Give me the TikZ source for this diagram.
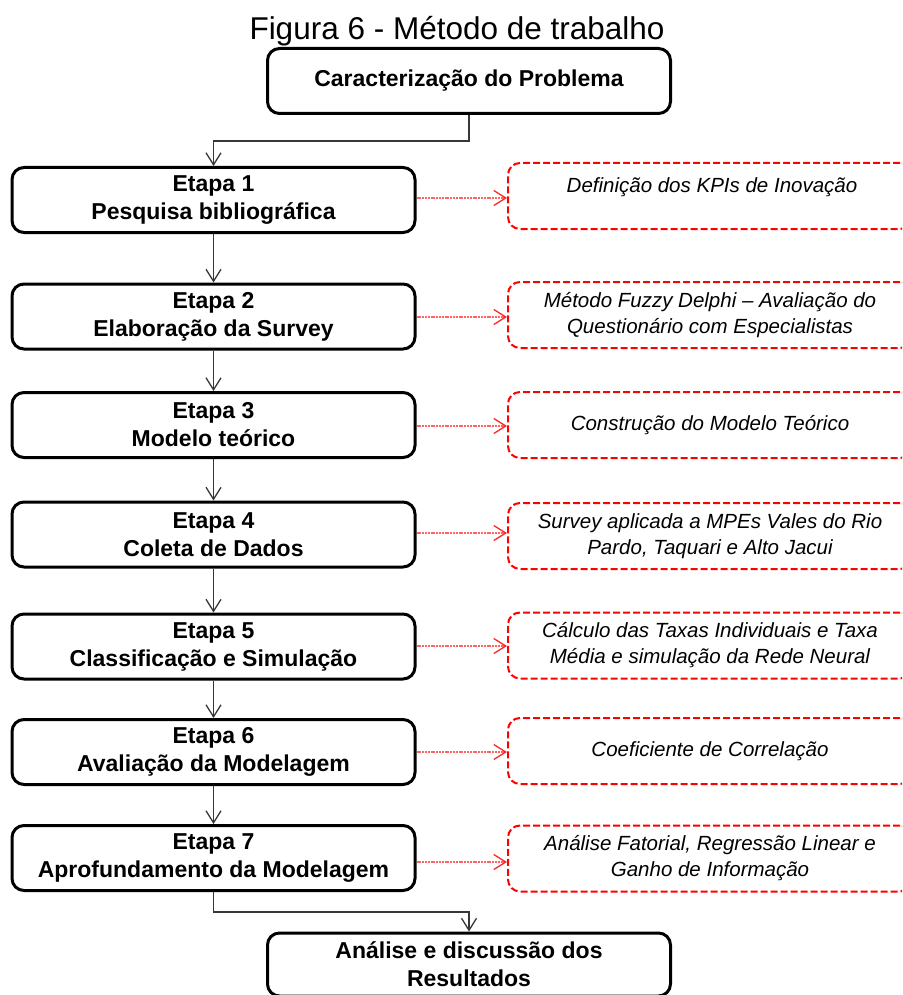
\documentclass[tikz,border=0pt]{standalone}
\usepackage{fontspec}
\setmainfont{Liberation Sans}
\usetikzlibrary{arrows.meta}
\definecolor{dashred}{RGB}{255,0,0}
\definecolor{linkred}{RGB}{255,100,100}
\definecolor{conngray}{RGB}{55,55,55}

\begin{document}
\begin{tikzpicture}[x=1pt,y=-1pt,
  stepbox/.style={draw=black, fill=white, line width=3pt, rounded corners=12pt,
    minimum width=403pt, minimum height=65pt, inner sep=0pt, align=center,
    font=\fontsize{23}{28}\selectfont\bfseries},
  notebox/.style={draw=dashred, line width=2pt, dash pattern=on 7pt off 3pt,
    rounded corners=12pt, minimum width=404pt, minimum height=66pt, inner sep=0pt},
  notetext/.style={align=center, inner sep=0pt,
    font=\fontsize{20.5}{26}\selectfont\itshape},
  conn/.style={draw=conngray, line width=1.3pt,
    -{Straight Barb[length=12pt,width=15pt,line width=1.3pt]}},
  link/.style={draw=linkred, line width=1.6pt, dash pattern=on 2pt off 0.8pt,
    -{Straight Barb[length=12pt,width=15pt,line width=1.3pt,color=red!85]}},
]
\useasboundingbox (0,0) rectangle (902,995);
\clip (0,0) rectangle (902,995);

% title
\node[anchor=base, font=\fontsize{31.5}{36}\selectfont] (title) at (457,40)
  {Figura 6 - Método de trabalho};

% main flow
\node[stepbox] (top) at (469,81) {Caracterização do Problema};
\node[stepbox] (e1) at (213.5,200) {Etapa 1\\Pesquisa bibliográfica};
\node[stepbox] (e2) at (213.5,316.5) {Etapa 2\\Elaboração da Survey};
\node[stepbox] (e3) at (213.5,425) {Etapa 3\\Modelo teórico};
\node[stepbox] (e4) at (213.5,534.5) {Etapa 4\\Coleta de Dados};
\node[stepbox] (e5) at (213.5,646.5) {Etapa 5\\Classificação e Simulação};
\node[stepbox] (e6) at (213.5,752) {Etapa 6\\Avaliação da Modelagem};
\node[stepbox] (e7) at (213.5,858) {Etapa 7\\Aprofundamento da Modelagem};
\node[stepbox, minimum height=63pt] (fim) at (469,964.5)
  {Análise e discussão dos\\Resultados};

% side notes
\node[notebox] (r1) at (710,196) {};
\node[notebox] (r2) at (710,315) {};
\node[notebox] (r3) at (710,425) {};
\node[notebox] (r4) at (710,536) {};
\node[notebox] (r5) at (710,645.5) {};
\node[notebox] (r6) at (710,751) {};
\node[notebox] (r7) at (710,858.5) {};

\node[notetext] (t1) at (712,187) {Definição dos KPIs de Inovação};
\node[notetext] (t2) at (r2) {Método Fuzzy Delphi -- Avaliação do\\Questionário com Especialistas};
\node[notetext] (t3) at (r3) {Construção do Modelo Teórico};
\node[notetext] (t4) at (r4) {Survey aplicada a MPEs Vales do Rio\\Pardo, Taquari e Alto Jacui};
\node[notetext] (t5) at (r5) {Cálculo das Taxas Individuais e Taxa\\Média e simulação da Rede Neural};
\node[notetext] (t6) at (r6) {Coeficiente de Correlação};
\node[notetext] (t7) at (r7) {Análise Fatorial, Regressão Linear e\\Ganho de Informação};

% connectors
\draw[conn] (top.south) -- (top.south |- 0,141) -| (e1.north);
\draw[conn] (e1) -- (e2);
\draw[conn] (e2) -- (e3);
\draw[conn] (e3) -- (e4);
\draw[conn] (e4) -- (e5);
\draw[conn] (e5) -- (e6);
\draw[conn] (e6) -- (e7);
\draw[conn] (e7.south) -- (e7.south |- 0,912) -| (fim.north);

\foreach \i/\y in {1/198,2/317,3/426,4/533,5/646,6/752,7/862}
  \draw[link] (e\i.east |- 0,\y) -- (r\i.west |- 0,\y);
\end{tikzpicture}
\end{document}
